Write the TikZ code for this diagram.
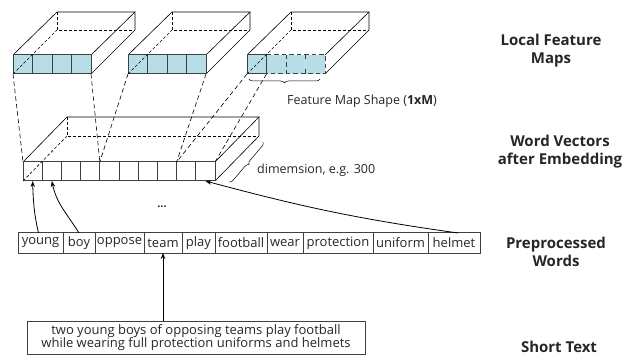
\documentclass[tikz,border=0pt]{standalone}
\usepackage{fontspec}
\setmainfont{Open Sans}
\usetikzlibrary{arrows.meta,decorations.pathreplacing}
\definecolor{fm}{HTML}{B7DDE8}
\definecolor{ink}{HTML}{262626}
\definecolor{edge}{HTML}{404040}
\begin{document}
\begin{tikzpicture}[x=1pt,y=1pt,
  fcell/.style={draw=edge, line width=1pt, fill=fm, minimum width=19.5pt, minimum height=19pt, inner sep=0pt, outer sep=0pt},
  fcellnd/.style={fill=fm, minimum width=19.5pt, minimum height=19pt, inner sep=0pt, outer sep=0pt},
  vcell/.style={draw=edge, line width=1pt, fill=white, minimum width=19.2pt, minimum height=19pt, inner sep=0pt, outer sep=0pt},
  edgeline/.style={line width=0.6pt, black},
  hidden/.style={line width=0.6pt, black, dash pattern=on 3pt off 2pt},
  proj/.style={line width=0.6pt, black, dash pattern=on 4.5pt off 3pt},
  word/.style={draw=edge, line width=1pt, minimum height=20pt, inner sep=0pt, outer sep=0pt, text=ink, font=\fontsize{13}{14}\selectfont},
  sidelabel/.style={font=\bfseries\fontsize{15}{18}\selectfont, align=center, text=ink},
  note/.style={font=\fontsize{12.5}{14}\selectfont, text=ink, anchor=west, inner sep=0pt},
  arr/.style={-{Stealth[length=6pt,width=4.5pt]}, line width=0.8pt, black},
  brc/.style={decorate, decoration={brace, amplitude=4pt}, line width=0.5pt, black}
]
\useasboundingbox (0,0) rectangle (631,-355);

% ---------- Local feature maps ----------
\foreach \L/\n in {13/a,128/b,247/c}{
  \draw[edgeline] (\L,-55) -- ({\L+44},-12) -- ({\L+122},-12) -- ({\L+78},-55);
  \draw[edgeline] ({\L+78},-74) -- ({\L+122},-30) -- ({\L+122},-12);
  \draw[hidden] ({\L+44},-12) -- ({\L+44},-30) -- ({\L+122},-30);
}
\foreach \i in {1,...,4}{
  \node[fcell] (fa\i) at ({13+19.5*\i-9.75},-64.5) {};
  \node[fcell] (fb\i) at ({128+19.5*\i-9.75},-64.5) {};
}
\node[fcellnd] (fc2) at ({247+19.5*2-9.75},-64.5) {};
\node[fcellnd] (fc3) at ({247+19.5*3-9.75},-64.5) {};
\node[fcellnd] (fc4) at ({247+19.5*4-9.75},-64.5) {};
\draw[edge, line width=1pt, dash pattern=on 4.5pt off 3pt] (fc2.north west) -- (fc4.north east) -- (fc4.south east) -- (fc2.south west);
\draw[edge, line width=1pt, dash pattern=on 4.5pt off 3pt] (fc3.north west) -- (fc3.south west);
\draw[edge, line width=1pt, dash pattern=on 4.5pt off 10pt on 4.5pt] (fc4.north west) -- (fc4.south west);
\node[fcell] (fc1) at ({247+9.75},-64.5) {};
\foreach \L in {13,128,247}{
  \draw[hidden] (\L,-74) -- ({\L+44},-30);
}
\draw[brc] (320,-79) -- (249,-79);
\node[note] (fms) at (287,-101) {Feature Map Shape (\textbf{1xM})};

% ---------- Word vectors ----------
\draw[edgeline] (23,-162) -- (67,-117) -- (259,-117) -- (215,-162);
\draw[edgeline] (215,-181) -- (259,-136) -- (259,-117);
\draw[hidden] (67,-117) -- (67,-136) -- (259,-136);
\foreach \i in {0,...,9}{
  \node[vcell] (v\i) at ({23+19.2*\i+9.6},-171.5) {};
}
\draw[hidden] (v0.south west) -- (67,-136);
\draw[brc] (263,-142) -- (229,-182);
\node[note] (dim) at (257,-170) {dimemsion, e.g. 300};

% projections
\draw[proj] (fa1.south west) -- (v0.north west);
\draw[proj] (fa4.south east) -- (v3.north east);
\draw[proj] (fb1.south west) -- (v3.north east);
\draw[proj] (fb4.south east) -- (v7.north east);
\draw[proj] (fc1.south west) -- (v7.north east);
\draw[proj] (fc1.south east) -- (v9.north east);

\node[text=ink, font=\bfseries\fontsize{11}{13}\selectfont] (dots) at (162,-207) {...};

% ---------- Preprocessed words ----------
\node[word, minimum width=45pt] (w1) at (40.5,-243) {young};
\node[word, minimum width=32pt] (w2) at (79,-243) {boy};
\node[word, minimum width=49pt] (w3) at (119.5,-243) {oppose};
\node[word, minimum width=38pt] (w4) at (163,-243) {team};
\node[word, minimum width=33pt] (w5) at (198.5,-243) {play};
\node[word, minimum width=52pt] (w6) at (241,-243) {football};
\node[word, minimum width=36pt] (w7) at (285,-243) {wear};
\node[word, minimum width=70pt] (w8) at (338,-243) {protection};
\node[word, minimum width=55pt] (w9) at (400.5,-243) {uniform};
\node[word, minimum width=52pt] (w10) at (454,-243) {helmet};

\draw[arr] ([xshift=-2pt]w1.north) to[out=103,in=-88] (v0.south);
\draw[arr] (w2.north) to[out=122,in=-78] (v1.south);
\draw[arr] ([xshift=4pt]w10.north) to[out=172,in=-15] (v9.south);

% ---------- Short text ----------
\node[draw=edge, line width=1pt, minimum width=338pt, minimum height=33pt, inner sep=0pt, align=center, text=ink, font=\fontsize{13}{13.5}\selectfont] (st) at (196,-337.5) {two young boys of opposing teams play football\\while wearing full protection uniforms and helmets};
\draw[arr] (w4.south |- st.north) -- (w4.south);

% ---------- Side labels ----------
\node[sidelabel] (l1) at (551,-51) {Local Feature\\Maps};
\node[sidelabel] (l2) at (560,-152) {Word Vectors\\after Embedding};
\node[sidelabel] (l3) at (556,-252) {Preprocessed\\Words};
\node[sidelabel] (l4) at (559,-347) {Short Text};
\end{tikzpicture}
\end{document}
